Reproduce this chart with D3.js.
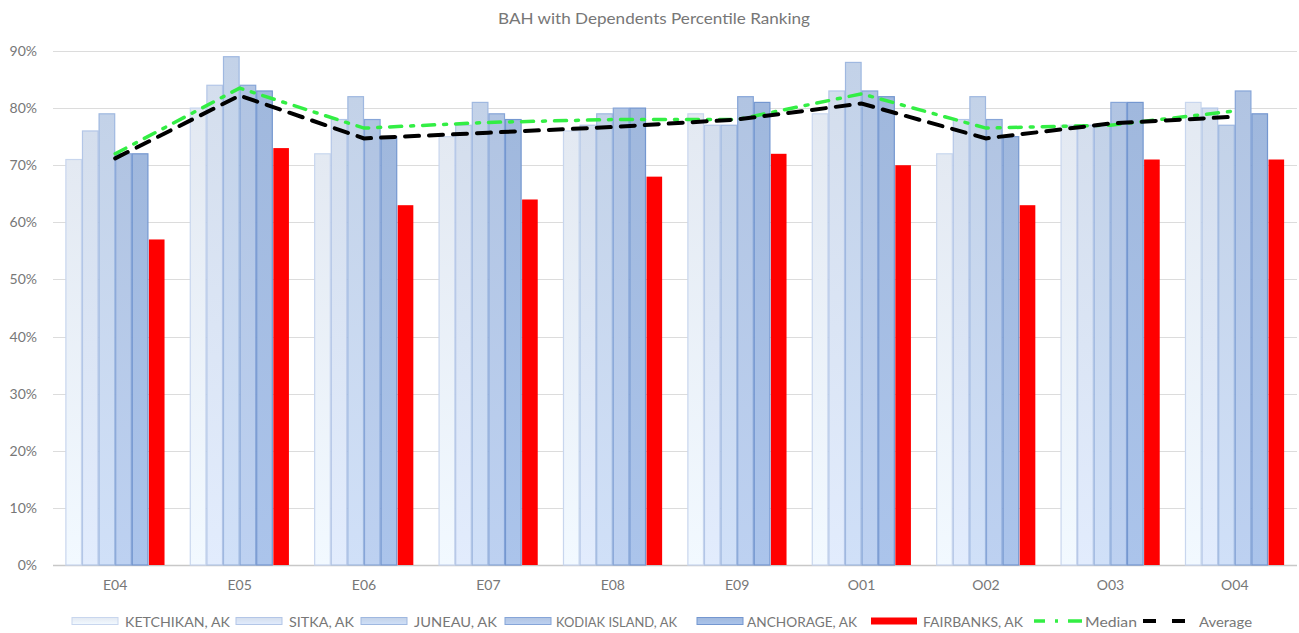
<!DOCTYPE html>
<html><head><meta charset="utf-8">
<script src="https://cdn.jsdelivr.net/npm/d3@7"></script>
<style>
body{margin:0;background:#fff;}
text{font-family:"Lato","Open Sans",sans-serif;}
</style></head>
<body><svg id="c" width="1299" height="633"></svg>
<script>
const categories = ["E04","E05","E06","E07","E08","E09","O01","O02","O03","O04"];
const seriesNames = ["KETCHIKAN, AK","SITKA, AK","JUNEAU, AK","KODIAK ISLAND, AK","ANCHORAGE, AK","FAIRBANKS, AK"];
const ketchikan = [71,80,72,75,76,79,79,72,77,81];
const sitka     = [76,84,78,77,77,77,83,78,77,80];
const juneau    = [79,89,82,81,79,77,88,82,77,77];
const kodiak    = [72,84,78,79,80,82,83,78,81,83];
const anchorage = [72,83,75,78,80,81,82,75,81,79];
const fairbanks = [57,73,63,64,68,72,70,63,71,71];
const median    = [72,83.5,76.5,77.5,78,78,82.5,76.5,77,79.5];
const average   = [71.2,82.2,74.7,75.7,76.7,78,80.8,74.7,77.3,78.5];
const yTicks = [0,10,20,30,40,50,60,70,80,90];

const seriesValues = [ketchikan,sitka,juneau,kodiak,anchorage,fairbanks];
const fills   = ["#eaf0f9","#dae4f4","#c9d8ef","#b6cae9","#a5bde3","#ff0000"];
const strokes = ["#c8d6ee","#b3c6e7","#9fb8e0","#86a5d8","#7497d0","#ff0000"];
const txt = "#777777";

const svg = d3.select("#c");
const L=53, R=1297, T=51, B=565;
const x0 = d3.scaleBand().domain(categories).range([L,R]).padding(0);
const x1 = d3.scaleBand().domain(d3.range(6)).range([0,x0.bandwidth()]).paddingInner(0).paddingOuter(0.745);
const y = d3.scaleLinear().domain([0,90]).range([B,T]);

const defs = svg.append("defs");
fills.slice(0,5).forEach((f,i)=>{
  const g = defs.append("linearGradient").attr("id","g"+i).attr("x1",0).attr("y1",0).attr("x2",0).attr("y2",1);
  g.append("stop").attr("offset","0%").attr("stop-color",d3.color(f).darker(0.08));
  g.append("stop").attr("offset","100%").attr("stop-color",d3.color(f).brighter(0.1));
});

// title
svg.append("text").attr("x",654).attr("y",24).attr("text-anchor","middle")
  .attr("font-size",16).attr("fill",txt).attr("textLength",312).attr("lengthAdjust","spacingAndGlyphs")
  .text("BAH with Dependents Percentile Ranking");

// gridlines
svg.append("g").selectAll("line").data(yTicks).join("line")
  .attr("x1",L).attr("x2",R).attr("y1",d=>Math.round(y(d))+0.5).attr("y2",d=>Math.round(y(d))+0.5)
  .attr("stroke",d=>d===0?"#c8c8c8":"#dcdcdc").attr("stroke-width",d=>d===0?1.5:1);

// y labels
svg.append("g").selectAll("text").data(yTicks).join("text")
  .attr("x",37).attr("y",d=>y(d)+5).attr("text-anchor","end")
  .attr("font-size",14).attr("fill",txt).text(d=>d+"%");

// x labels
svg.append("g").selectAll("text").data(categories).join("text")
  .attr("x",d=>x0(d)+x0.bandwidth()/2).attr("y",590).attr("text-anchor","middle")
  .attr("font-size",14).attr("fill",txt).text(d=>d);

// bars
const gBars = svg.append("g");
categories.forEach((c,ci)=>{
  seriesValues.forEach((vals,si)=>{
    gBars.append("rect")
      .attr("x",x0(c)+x1(si)+0.5).attr("y",y(vals[ci]))
      .attr("width",x1.bandwidth()-1).attr("height",B-y(vals[ci]))
      .attr("fill",si<5?`url(#g${si})`:fills[si])
      .attr("stroke",strokes[si]).attr("stroke-width",si<5?1.2:0);
  });
});

// lines
const cx = d=>x0(d)+x0.bandwidth()/2;
const line = d3.line().x((d,i)=>cx(categories[i])).y(d=>y(d));
svg.append("path").datum(median).attr("d",line).attr("fill","none")
  .attr("stroke","#33ee44").attr("stroke-width",3.5).attr("stroke-dasharray","12,9,3,9").attr("stroke-linecap","round");
svg.append("path").datum(average).attr("d",line).attr("fill","none")
  .attr("stroke","#000").attr("stroke-width",4).attr("stroke-dasharray","14,10").attr("stroke-linecap","round");

// legend
const legX = [72,236,361,505,697,871];
const legTX = [125,289,414,556,747,923];
const legW = [105,65,83,121,110,100];
const lg = svg.append("g");
seriesNames.forEach((n,i)=>{
  lg.append("rect").attr("x",legX[i]).attr("y",617.5).attr("width",46).attr("height",7)
    .attr("fill",i<5?`url(#g${i})`:fills[i]).attr("stroke",strokes[i]).attr("stroke-width",i<5?1:0);
  lg.append("text").attr("x",legTX[i]).attr("y",627).attr("font-size",14).attr("fill",txt)
    .attr("textLength",legW[i]).attr("lengthAdjust","spacingAndGlyphs").text(n);
});
lg.append("line").attr("x1",1034).attr("x2",1082).attr("y1",621).attr("y2",621)
  .attr("stroke","#33ee44").attr("stroke-width",3.5).attr("stroke-dasharray","11,10,3,10,14");
lg.append("text").attr("x",1085).attr("y",627).attr("font-size",14).attr("fill",txt)
  .attr("textLength",52).attr("lengthAdjust","spacingAndGlyphs").text("Median");
lg.append("line").attr("x1",1143).attr("x2",1185).attr("y1",621).attr("y2",621)
  .attr("stroke","#000").attr("stroke-width",4).attr("stroke-dasharray","13,16,13");
lg.append("text").attr("x",1199).attr("y",627).attr("font-size",14).attr("fill",txt)
  .attr("textLength",53).attr("lengthAdjust","spacingAndGlyphs").text("Average");
</script></body></html>
